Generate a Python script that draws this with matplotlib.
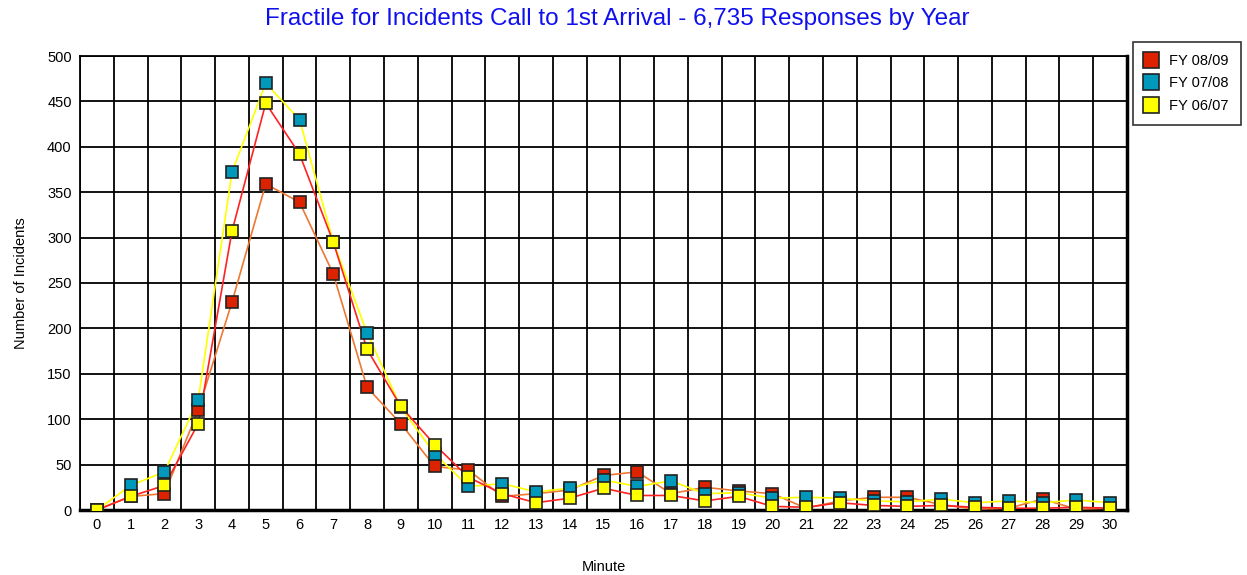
import numpy as np
import matplotlib
matplotlib.use("Agg")
import matplotlib.pyplot as plt

plt.rcParams['font.family'] = ['Liberation Sans', 'DejaVu Sans']

minutes = list(range(31))
fy0809 = [0, 15, 18, 110, 229, 359, 339, 260, 135, 95, 48, 44, 15, 18, 22, 38, 42, 18, 25, 21,
          18, 2, 10, 14, 14, 6, 1, 2, 12, 1, 2]
fy0708 = [0, 27, 42, 121, 372, 470, 430, 295, 195, 113, 62, 26, 29, 20, 24, 33, 26, 32, 18, 19,
          13, 14, 13, 10, 9, 12, 8, 10, 8, 11, 8]
fy0607 = [0, 15, 27, 95, 307, 448, 392, 295, 177, 114, 72, 36, 18, 8, 13, 24, 16, 16, 10, 15,
          4, 3, 8, 5, 4, 5, 3, 2, 2, 3, 2]

# marker colour, line colour
series = [("FY 08/09", fy0809, '#dd2200', '#ee7733'),
          ("FY 07/08", fy0708, '#0099bb', '#ffff00'),
          ("FY 06/07", fy0607, '#ffff00', '#ff2222')]

fig = plt.figure(figsize=(12.47, 5.75), dpi=100)
ax = fig.add_axes([80/1247, 65/575, 1047/1247, 454/575])

x = np.array(minutes)
for name, vals, mcol, lcol in series:
    ax.plot(x, vals, color=lcol, lw=1.2, zorder=3)
for name, vals, mcol, lcol in series:
    ax.plot(x, vals, ls='none', marker='s', ms=8.5, mfc=mcol, mec='#222222', mew=1.2,
            label=name, zorder=4)

ax.set_xlim(-0.5, 30.5)
ax.set_ylim(0, 500)
ax.set_xticks(minutes)
ax.set_xticks(np.arange(-0.5, 31, 1), minor=True)
ax.set_yticks(np.arange(0, 501, 50))
ax.grid(which='minor', axis='x', color='black', lw=1.3)
ax.grid(which='major', axis='y', color='black', lw=1.3)
ax.tick_params(which='both', length=0, labelsize=10.5, pad=6)
for s in ['top', 'left']:
    ax.spines[s].set_linewidth(1.3)
for s in ['right', 'bottom']:
    ax.spines[s].set_linewidth(2.5)

ax.set_xlabel("Minute", fontsize=10.5, labelpad=20)
ax.set_ylabel("Number of Incidents", fontsize=10.5, labelpad=14)
fig.text(617/1247, 1 - 19/575, "Fractile for Incidents Call to 1st Arrival - 6,735 Responses by Year",
         ha='center', va='center', color='#1010ee', fontsize=17.5)

leg = ax.legend(loc='upper left', bbox_to_anchor=(1133/1247, 1 - 42/575), bbox_transform=fig.transFigure,
                borderaxespad=0, fontsize=10.5, frameon=True, fancybox=False, edgecolor='black',
                handlelength=0.9, handletextpad=0.8, borderpad=0.8, labelspacing=0.6, markerscale=1.35)
leg.get_frame().set_linewidth(1.2)

fig.savefig("out.png", dpi=100)
